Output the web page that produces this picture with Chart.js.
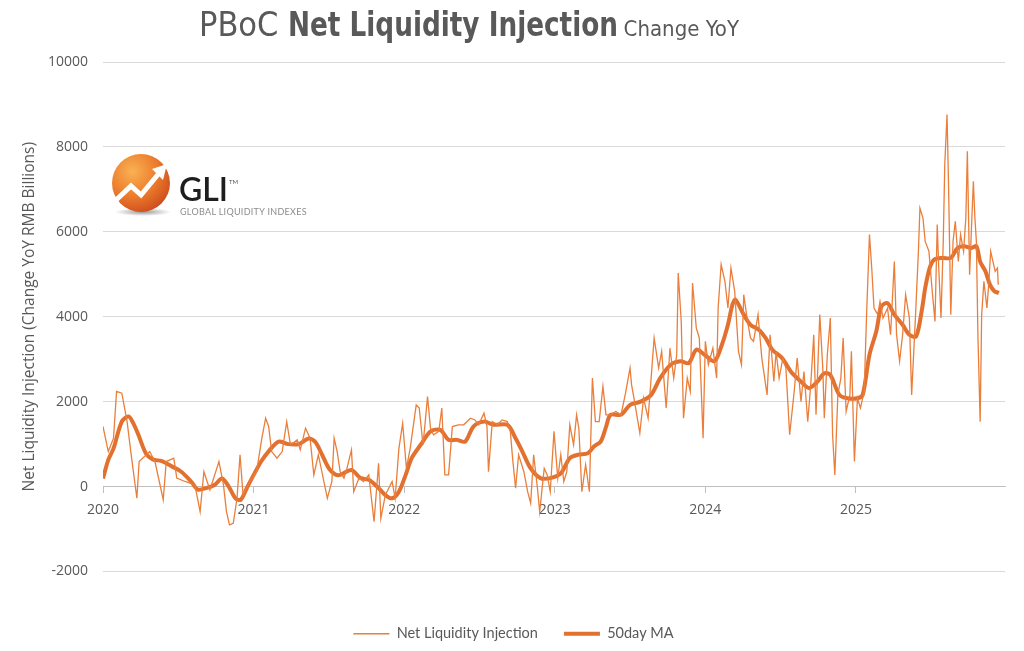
<!DOCTYPE html>
<html>
<head>
<meta charset="utf-8">
<title>PBoC Net Liquidity Injection</title>
<script src="https://cdn.jsdelivr.net/npm/chart.js@4.4.1/dist/chart.umd.min.js"></script>
<style>
  body { margin: 0; background: #fff; }
  #wrap { position: relative; width: 1024px; height: 651px; overflow: hidden; }
  #chart { position: absolute; left: 0; top: 0; }
  #title {
    position: absolute; left: 0; top: 4px; width: 938px; text-align: center;
    font-family: "DejaVu Sans Condensed", "Open Sans", sans-serif;
    color: #595959; font-size: 34px; white-space: nowrap;
  }
  #title b {
    font-weight: bold; display: inline-block;
    transform: scaleX(0.86); transform-origin: 0 50%; margin-right: -58px;
  }
  #title small { font-size: 22px; }
  #logo { position: absolute; left: 100px; top: 148px; }
</style>
</head>
<body>
<div id="wrap">
  <canvas id="chart" width="1024" height="651"></canvas>
  <div id="title">PBoC <b>Net Liquidity Injection</b> <small>Change YoY</small></div>
  <svg id="logo" width="240" height="75" viewBox="100 148 240 75">
    <defs>
      <radialGradient id="ball" cx="0.35" cy="0.3" r="0.8">
        <stop offset="0" stop-color="#f9b252"/>
        <stop offset="0.55" stop-color="#ec7a2c"/>
        <stop offset="1" stop-color="#c8461b"/>
      </radialGradient>
      <radialGradient id="shade" cx="0.5" cy="0.5" r="0.5">
        <stop offset="0" stop-color="#555" stop-opacity="0.6"/>
        <stop offset="1" stop-color="#555" stop-opacity="0"/>
      </radialGradient>
    </defs>
    <ellipse cx="143" cy="212" rx="28" ry="4" fill="url(#shade)"/>
    <circle cx="141" cy="183" r="29" fill="url(#ball)"/>
    <polyline points="114,202 131,186 141,195 160,172" fill="none" stroke="#fff" stroke-width="5" stroke-linejoin="miter"/>
    <polygon points="152,169 167,164 163,180" fill="#fff"/>
    <text x="179" y="201" font-family="Lato, 'Open Sans', sans-serif" font-size="32" font-weight="600" fill="#1e1e1e">GLI</text>
    <text x="229" y="184" font-family="Lato, sans-serif" font-size="6" fill="#555">TM</text>
    <text x="180" y="215" font-family="Lato, 'Open Sans', sans-serif" font-size="9" fill="#8c8c8c" letter-spacing="0.3">GLOBAL LIQUIDITY INDEXES</text>
  </svg>
</div>
<script>
// --- DONNÉES ---

// Série brute : dates en années décimales, valeurs en milliards de RMB
const rawDates = [
  2020.00, 2020.035, 2020.07, 2020.09, 2020.125, 2020.16, 2020.19, 2020.225, 2020.24, 2020.31,
  2020.345, 2020.40, 2020.42, 2020.47, 2020.49, 2020.545, 2020.61, 2020.645, 2020.67, 2020.71,
  2020.77, 2020.80, 2020.82, 2020.84, 2020.865, 2020.89, 2020.91, 2020.93, 2020.975, 2021.02,
  2021.055, 2021.08, 2021.10, 2021.12, 2021.155, 2021.19, 2021.22, 2021.245, 2021.29, 2021.31,
  2021.345, 2021.375, 2021.40, 2021.43, 2021.49, 2021.52, 2021.535, 2021.555, 2021.575, 2021.60,
  2021.62, 2021.65, 2021.665, 2021.70, 2021.73, 2021.765, 2021.80, 2021.83, 2021.845, 2021.875,
  2021.92, 2021.94, 2021.965, 2021.99, 2022.015, 2022.04, 2022.08, 2022.10, 2022.125, 2022.14,
  2022.155, 2022.175, 2022.195, 2022.23, 2022.25, 2022.27, 2022.295, 2022.32, 2022.36, 2022.395,
  2022.44, 2022.47, 2022.495, 2022.53, 2022.55, 2022.56, 2022.585, 2022.62, 2022.65, 2022.685,
  2022.705, 2022.72, 2022.74, 2022.76, 2022.795, 2022.82, 2022.84, 2022.86, 2022.885, 2022.90,
  2022.93, 2022.95, 2022.97, 2022.995, 2023.02, 2023.04, 2023.06, 2023.08, 2023.10, 2023.125,
  2023.145, 2023.16, 2023.18, 2023.205, 2023.23, 2023.25, 2023.27, 2023.295, 2023.32, 2023.34,
  2023.37, 2023.405, 2023.44, 2023.47, 2023.50, 2023.51, 2023.53, 2023.565, 2023.59, 2023.62,
  2023.64, 2023.66, 2023.69, 2023.71, 2023.74, 2023.765, 2023.79, 2023.81, 2023.82, 2023.84,
  2023.855, 2023.88, 2023.90, 2023.915, 2023.94, 2023.96, 2023.985, 2024.00, 2024.02, 2024.05,
  2024.075, 2024.085, 2024.105, 2024.13, 2024.15, 2024.17, 2024.195, 2024.22, 2024.24, 2024.255,
  2024.28, 2024.30, 2024.32, 2024.35, 2024.375, 2024.41, 2024.43, 2024.455, 2024.47, 2024.49,
  2024.515, 2024.535, 2024.56, 2024.59, 2024.61, 2024.635, 2024.655, 2024.68, 2024.70, 2024.72,
  2024.735, 2024.76, 2024.78, 2024.79, 2024.81, 2024.83, 2024.845, 2024.86, 2024.88, 2024.90,
  2024.915, 2024.935, 2024.96, 2024.97, 2024.99, 2025.01, 2025.03, 2025.055, 2025.07, 2025.09,
  2025.105, 2025.12, 2025.145, 2025.16, 2025.18, 2025.21, 2025.23, 2025.255, 2025.27, 2025.29,
  2025.31, 2025.33, 2025.355, 2025.37, 2025.395, 2025.415, 2025.425, 2025.445, 2025.46, 2025.485,
  2025.505, 2025.525, 2025.54, 2025.55, 2025.565, 2025.58, 2025.59, 2025.605, 2025.615, 2025.63,
  2025.645, 2025.66, 2025.68, 2025.695, 2025.715, 2025.73, 2025.74, 2025.755, 2025.77, 2025.78,
  2025.79, 2025.80, 2025.81, 2025.825, 2025.835, 2025.85, 2025.87, 2025.88, 2025.895, 2025.91,
  2025.925, 2025.94, 2025.945
];
const rawValues = [
  1415, 825, 1140, 2240, 2200, 1530, 670, -275, 590, 825,
  590, -310, 590, 670, 200, 120, 40, -590, 350, -80,
  590, 40, -590, -900, -865, -275, 750, -200, 120, 350,
  1140, 1610, 1415, 825, 670, 825, 1530, 985, 1100, 865,
  1375, 1140, 275, 750, -275, 120, 1140, 825, 350, 200,
  430, 865, -120, 200, 120, 275, -825, 550, -750, -200,
  120, -275, 900, 1490, 430, 900, 1925, 1850, 985, 1530,
  2120, 1375, 1220, 1300, 1850, 275, 275, 1415, 1455, 1455,
  1610, 1570, 1455, 1730, 1415, 350, 1530, 1455, 1570, 1530,
  1300, 670, -40, 750, 350, -120, -390, 750, -40, -590,
  430, 275, -120, 1300, 200, 750, 120, 350, 1455, 985,
  1690, 1375, -120, 510, -120, 2555, 1530, 1530, 2360, 1690,
  1690, 1770, 1690, 2200, 2790, 2400, 2000, 1260, 2080, 1610,
  2555, 3500, 2790, 3185, 1850, 3260, 2555, 3105, 5030, 3890,
  1610, 2555, 2240, 4795, 3730, 3500, 1140, 3420, 2870, 3260,
  2555, 4205, 5230, 4835, 4205, 5150, 4600, 3185, 2870, 4520,
  3890, 3500, 3420, 4050, 3025, 2160, 3575, 2475, 3185, 2555,
  3025, 2790, 1220, 2240, 3025, 2000, 2710, 1530, 2400, 3575,
  1690, 4050, 2790, 1610, 3105, 3970, 1220, 275, 2160, 2555,
  3500, 1770, 2160, 3185, 590, 2080, 1850, 2240, 3970, 5935,
  5150, 4205, 4050, 4360, 3970, 4205, 3575, 5300, 3575, 2950,
  3575, 4520, 3970, 2160, 3970, 5540, 6560, 6330, 5775, 5540,
  4675, 3890, 6170, 5150, 3970, 5775, 7585, 8765, 7115, 4050,
  5775, 6250, 5300, 5935, 5540, 6330, 7900, 4990, 6330, 7190,
  6330, 5775, 3575, 1530, 4050, 4835, 4205, 4675, 5540, 5300,
  5070, 5150, 4755
];

// Moyenne mobile 50 jours
const maDates = [
  2020.00, 2020.035, 2020.07, 2020.125, 2020.17, 2020.20, 2020.235, 2020.285, 2020.33, 2020.39,
  2020.46, 2020.52, 2020.585, 2020.63, 2020.69, 2020.745, 2020.79, 2020.835, 2020.88, 2020.915,
  2020.96, 2021.00, 2021.05, 2021.10, 2021.166, 2021.23, 2021.30, 2021.365, 2021.41, 2021.455,
  2021.50, 2021.54, 2021.575, 2021.65, 2021.71, 2021.765, 2021.82, 2021.875, 2021.92, 2021.965,
  2022.01, 2022.05, 2022.11, 2022.175, 2022.24, 2022.295, 2022.35, 2022.405, 2022.46, 2022.53,
  2022.595, 2022.685, 2022.74, 2022.785, 2022.84, 2022.905, 2022.97, 2023.04, 2023.10, 2023.155,
  2023.22, 2023.26, 2023.305, 2023.34, 2023.37, 2023.44, 2023.50, 2023.57, 2023.64, 2023.70,
  2023.77, 2023.835, 2023.89, 2023.94, 2023.995, 2024.06, 2024.11, 2024.15, 2024.18, 2024.20,
  2024.255, 2024.30, 2024.355, 2024.40, 2024.445, 2024.51, 2024.57, 2024.635, 2024.69, 2024.745,
  2024.79, 2024.83, 2024.89, 2024.945, 2025.01, 2025.045, 2025.09, 2025.135, 2025.17, 2025.21,
  2025.255, 2025.31, 2025.355, 2025.40, 2025.44, 2025.46, 2025.49, 2025.52, 2025.575, 2025.63,
  2025.675, 2025.72, 2025.765, 2025.80, 2025.825, 2025.86, 2025.89, 2025.92, 2025.95
];
const maValues = [
  190, 630, 900, 1530, 1650, 1500, 1220, 780, 640, 600,
  470, 350, 120, -70, -30, 50, 190, 0, -280, -310,
  0, 270, 590, 830, 1060, 1000, 1000, 1130, 1050, 750,
  430, 290, 275, 390, 200, 160, 0, -200, -275, -120,
  275, 670, 985, 1300, 1335, 1100, 1100, 1060, 1415, 1530,
  1455, 1455, 1140, 825, 430, 200, 200, 310, 670, 750,
  785, 945, 1060, 1400, 1690, 1690, 1925, 2000, 2160, 2555,
  2870, 2950, 2910, 3225, 3105, 2950, 3340, 3810, 4285, 4400,
  4050, 3810, 3695, 3500, 3225, 3025, 2700, 2475, 2320, 2475,
  2670, 2630, 2160, 2080, 2080, 2160, 3105, 3655, 4245, 4320,
  4050, 3810, 3575, 3535, 4205, 4675, 5150, 5345, 5385, 5385,
  5620, 5660, 5620, 5660, 5300, 5070, 4755, 4600, 4560
];

// Axes
const yearTicks = [2020, 2021, 2022, 2023, 2024, 2025];
const yMin = -2000, yMax = 10000, yStep = 2000;

// --- STYLES ---
const ORANGE = "#ea7e3a";
const GRID = "#d9d9d9";
const TEXT = "#595959";

const toPoints = (dates, values) => dates.map((d, i) => ({ x: d, y: values[i] }));

new Chart(document.getElementById("chart"), {
  type: "line",
  data: {
    datasets: [
      {
        label: "Net Liquidity Injection",
        data: toPoints(rawDates, rawValues),
        borderColor: ORANGE,
        backgroundColor: ORANGE,
        borderWidth: 1.3,
        pointRadius: 0,
        tension: 0,
      },
      {
        label: "50day MA",
        data: toPoints(maDates, maValues),
        borderColor: "#e2702f",
        backgroundColor: "#e2702f",
        borderWidth: 4,
        pointRadius: 0,
        tension: 0.3,
      },
    ],
  },
  options: {
    responsive: false,
    animation: false,
    layout: { padding: { left: 22, right: 19, top: 62, bottom: 0 } },
    plugins: {
      title: { display: false },
      tooltip: { enabled: false },
      legend: {
        position: "bottom",
        // titre vide : sert seulement à écarter la légende de la zone du graphique
        title: { display: true, text: "", font: { size: 10 }, padding: { top: 8, bottom: 9 } },
        labels: {
          usePointStyle: true,
          pointStyle: "line",
          pointStyleWidth: 36,
          padding: 26,
          color: TEXT,
          font: { family: "Lato, 'Open Sans', sans-serif", size: 14.5 },
        },
      },
    },
    scales: {
      x: {
        type: "linear",
        position: { y: 0 },
        min: 2020,
        max: 2025.99,
        afterBuildTicks: (axis) => { axis.ticks = yearTicks.map(v => ({ value: v })); },
        ticks: {
          color: TEXT,
          padding: 9,
          font: { family: "'Open Sans', sans-serif", size: 14 },
          callback: (v) => String(v),
          maxRotation: 0,
        },
        grid: { drawOnChartArea: false, drawTicks: true, tickLength: 6, color: "#bfbfbf" },
        border: { display: true, color: "#bfbfbf" },
      },
      y: {
        min: yMin,
        max: yMax,
        // largeur fixe pour caler la zone du graphique à gauche
        afterFit: (axis) => { axis.width = 81; },
        ticks: {
          stepSize: yStep,
          color: TEXT,
          padding: 15,
          font: { family: "'Open Sans', sans-serif", size: 14 },
          callback: (v) => String(v),
        },
        grid: { color: GRID, drawTicks: false },
        border: { display: false },
        title: {
          display: true,
          text: "Net Liquidity Injection (Change YoY RMB Billions)",
          color: TEXT,
          font: { family: "'Open Sans', sans-serif", size: 15.5, lineHeight: 1 },
          padding: { top: 0, bottom: 0 },
        },
      },
    },
  },
});
</script>
</body>
</html>
